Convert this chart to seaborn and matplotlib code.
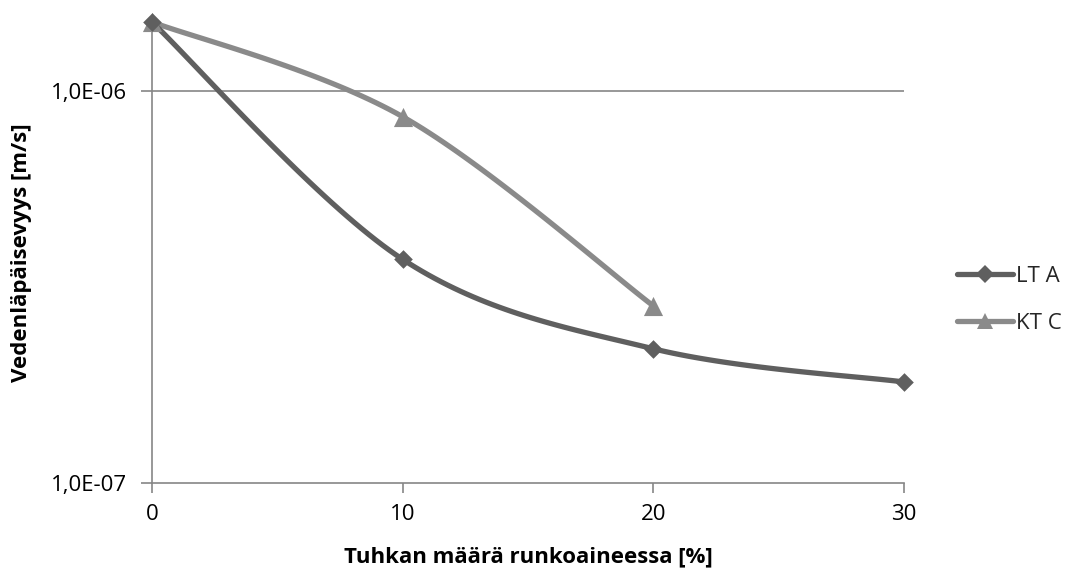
import numpy as np
import matplotlib
matplotlib.use("Agg")
import matplotlib.pyplot as plt
import seaborn as sns
import pandas as pd
from matplotlib.lines import Line2D

# ---- data ----
x_lta = [0, 10, 20, 30]
y_lta = [1.5e-6, 3.72e-7, 2.2e-7, 1.81e-7]
x_ktc = [0, 10, 20]
y_ktc = [1.5e-6, 8.6e-7, 2.83e-7]
series_names = ["LT A", "KT C"]
y_ticks = [1e-7, 1e-6]
y_tick_labels = ["1,0E-07", "1,0E-06"]
x_ticks = [0, 10, 20, 30]
x_label = "Tuhkan määrä runkoaineessa [%]"
y_label = "Vedenläpäisevyys [m/s]"

sns.set_theme(style="white")
plt.rcParams['font.family'] = ['Open Sans', 'DejaVu Sans']

c_lta = "#5f5f5f"
c_ktc = "#8a8a8a"
axis_c = "#868686"
fs = 16


def smooth(xs, ys, n=40):
    # Excel-style Bezier smoothing (Catmull-Rom) in (x, log10 y) space
    P = np.column_stack([np.asarray(xs, float), np.log10(np.asarray(ys, float))])
    out = []
    m = len(P)
    for i in range(m - 1):
        p0 = P[i - 1] if i > 0 else P[i]
        p1 = P[i]
        p2 = P[i + 1]
        p3 = P[i + 2] if i + 2 < m else P[i + 1]
        c1 = p1 + (p2 - p0) / 6.0
        c2 = p2 - (p3 - p1) / 6.0
        t = np.linspace(0, 1, n)[:, None]
        seg = ((1 - t) ** 3) * p1 + 3 * ((1 - t) ** 2) * t * c1 + 3 * (1 - t) * t ** 2 * c2 + t ** 3 * p2
        out.append(seg if i == 0 else seg[1:])
    S = np.vstack(out)
    return pd.DataFrame({"x": S[:, 0], "y": 10 ** S[:, 1]})


fig = plt.figure(figsize=(10.71, 5.71), dpi=100)
ax = fig.add_axes([152 / 1071, 1 - 483 / 571, (904 - 152) / 1071, (483 - 22) / 571])
ax.set_yscale("log")

d1 = smooth(x_lta, y_lta)
d2 = smooth(x_ktc, y_ktc)

ax.set_xlim(0, 30)
ax.set_ylim(1e-7, 1.5e-6)

# gridline
ax.axhline(1e-6, color=axis_c, lw=1.2, zorder=1)

sns.lineplot(data=d2, x="x", y="y", sort=False, ax=ax, color=c_ktc, lw=3.8, zorder=3,
             estimator=None, clip_on=False)
sns.lineplot(data=d1, x="x", y="y", sort=False, ax=ax, color=c_lta, lw=3.8, zorder=4,
             estimator=None, clip_on=False)
sns.scatterplot(x=x_ktc, y=y_ktc, ax=ax, marker="^", s=190, color=c_ktc, edgecolor=c_ktc,
                linewidth=0, zorder=5, clip_on=False)
sns.scatterplot(x=x_lta, y=y_lta, ax=ax, marker="D", s=90, color=c_lta, edgecolor=c_lta,
                linewidth=0, zorder=6, clip_on=False)

ax.set_yticks(y_ticks)
ax.set_yticklabels(y_tick_labels)
ax.yaxis.set_minor_locator(matplotlib.ticker.NullLocator())
ax.set_xticks(x_ticks)
ax.set_xticklabels([str(v) for v in x_ticks])

for s in ["top", "right"]:
    ax.spines[s].set_visible(False)
for s in ["left", "bottom"]:
    ax.spines[s].set_color(axis_c)
    ax.spines[s].set_linewidth(1.2)

ax.tick_params(axis="y", which="major", direction="out", length=8, width=1.2, color=axis_c,
               labelsize=fs, pad=10, left=True)
ax.tick_params(axis="x", which="major", direction="out", length=7, width=1.2, color=axis_c,
               labelsize=fs, pad=8, bottom=True)
for lab in ax.get_xticklabels() + ax.get_yticklabels():
    lab.set_color("#000000")

ax.set_xlabel(x_label, fontsize=fs, fontweight="bold", color="black", va="center")
ax.set_ylabel(y_label, fontsize=fs, fontweight="bold", color="black", va="center")
ax.yaxis.set_label_coords(-(152 - 22) / (904 - 152), 0.5)
ax.xaxis.set_label_coords(0.5, -(557 - 483) / (483 - 22))

handles = [
    Line2D([0], [0], color=c_lta, lw=3.8, marker="D", markersize=9, markeredgewidth=0),
    Line2D([0], [0], color=c_ktc, lw=3.8, marker="^", markersize=12, markeredgewidth=0),
]
fig.legend(handles, series_names, loc="center left", bbox_to_anchor=(937 / 1071, 1 - 300 / 571),
           frameon=False, fontsize=fs, handlelength=2.5, handletextpad=0.15, labelspacing=1.15)

fig.savefig("out.png", dpi=100)
